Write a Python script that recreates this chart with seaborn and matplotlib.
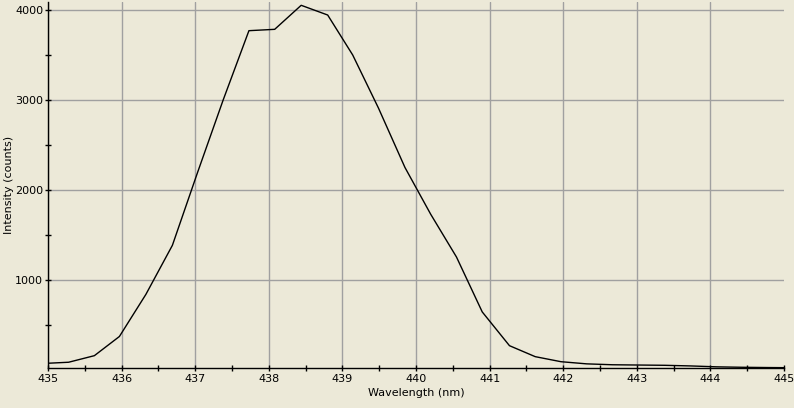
import pandas as pd
import numpy as np
import seaborn as sns
import matplotlib.pyplot as plt
from matplotlib.ticker import MultipleLocator

# spectrum
wavelength = [434.93, 435.28, 435.63, 435.97, 436.33, 436.69, 437.03, 437.38,
              437.73, 438.08, 438.44, 438.80, 439.14, 439.49, 439.85, 440.20,
              440.55, 440.90, 441.27, 441.62, 441.97, 442.32, 442.67, 443.02,
              443.38, 443.73, 444.08, 444.43, 444.78, 445.13]
intensity = [72, 86, 159, 372, 840, 1385, 2190, 3000,
             3770, 3785, 4052, 3944, 3500, 2910, 2250, 1730,
             1255, 645, 270, 148, 92, 68, 58, 55,
             52, 45, 35, 30, 27, 25]
x_ticks = [435, 436, 437, 438, 439, 440, 441, 442, 443, 444, 445]
y_ticks = [1000, 2000, 3000, 4000]

df = pd.DataFrame({'Wavelength': wavelength, 'Intensity': intensity})

bg = '#ECE9D8'
sns.set_style("ticks")
plt.rcParams['font.family'] = ['DejaVu Sans']

fig = plt.figure(figsize=(7.94, 4.08), dpi=100, facecolor=bg)
ax = fig.add_axes([48/794, 40/408, 736/794, 366.3/408])
ax.set_facecolor(bg)

sns.lineplot(x='Wavelength', y='Intensity', data=df, color='black', linewidth=1.0, ax=ax)

ax.set_xlim(435, 445)
ax.set_ylim(22, 4092)
ax.set_xticks(x_ticks)
ax.set_yticks(y_ticks)
ax.xaxis.set_minor_locator(MultipleLocator(0.5))
ax.yaxis.set_minor_locator(MultipleLocator(500))

ax.grid(True, which='major', color='#A0A0A0', linewidth=1.0)
ax.set_axisbelow(True)
# no grid line on the right edge
for line, loc in zip(ax.get_xgridlines(), ax.get_xticks()):
    if loc >= 445:
        line.set_visible(False)
for s in ['top', 'right']:
    ax.spines[s].set_visible(False)
for s in ['left', 'bottom']:
    ax.spines[s].set_color('black')
    ax.spines[s].set_linewidth(1.0)

ax.tick_params(which='both', direction='inout', length=5, width=1, colors='black', labelsize=8)
ax.tick_params(axis='x', pad=2)
ax.tick_params(axis='y', pad=1)

ax.set_xlabel('Wavelength (nm)', fontsize=8, labelpad=3, color='black')
ax.set_ylabel('Intensity (counts)', fontsize=8, labelpad=1, color='black')

plt.savefig('out.png', dpi=100, facecolor=bg)
